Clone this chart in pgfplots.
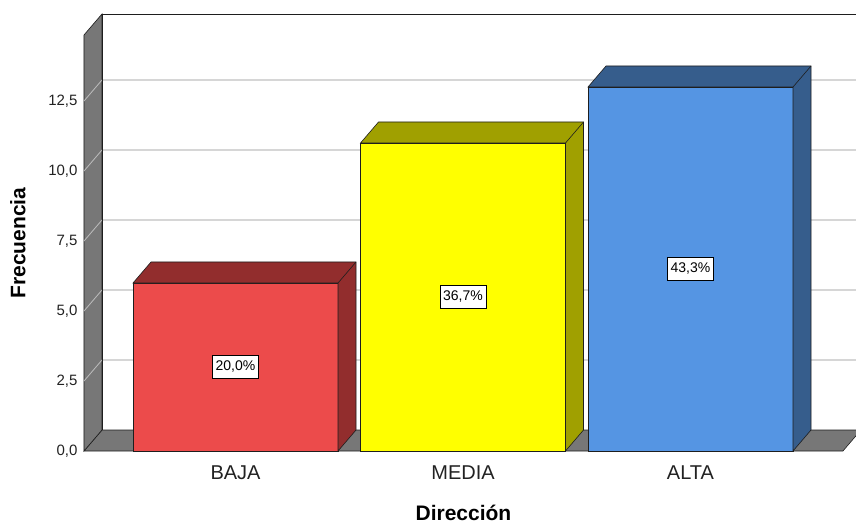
\documentclass[border=0pt]{standalone}
\usepackage{fontspec}
\setmainfont{Liberation Sans}
\usepackage{pgfplots}
\usepackage{pgfplotstable}
\pgfplotsset{compat=1.18}

\definecolor{bajaF}{HTML}{EC4B4B}
\definecolor{bajaS}{HTML}{922D2D}
\definecolor{mediaF}{HTML}{FFFF00}
\definecolor{mediaS}{HTML}{A0A000}
\definecolor{altaF}{HTML}{5595E3}
\definecolor{altaS}{HTML}{365D8C}
\definecolor{wallgray}{HTML}{777777}
\definecolor{gridgray}{HTML}{D6D6D6}
\definecolor{wallgrid}{HTML}{BEBEBE}
\definecolor{edge}{HTML}{1E1E1E}
\definecolor{txt}{HTML}{222222}

% frequency of each level and its share of the total
\pgfplotstableread{
x n pct
0 6 20,0
}\baja
\pgfplotstableread{
x n pct
1 11 36,7
}\media
\pgfplotstableread{
x n pct
2 13 43,3
}\alta

% top and right faces of a bar: drawn at the bar's top centre,
% \barh is the bar's value (28pt per unit), depth offset (18pt,21pt)
\pgfdeclareplotmark{depthbox}{%
  \pgfmathsetmacro\hh{\barh*28}%
  \pgfmathsetmacro\hb{21-\hh}%
  \pgfpathmoveto{\pgfpoint{-102.5pt}{0pt}}%
  \pgfpathlineto{\pgfpoint{-84.5pt}{21pt}}%
  \pgfpathlineto{\pgfpoint{120.5pt}{21pt}}%
  \pgfpathlineto{\pgfpoint{120.5pt}{\hb pt}}%
  \pgfpathlineto{\pgfpoint{102.5pt}{-\hh pt}}%
  \pgfpathlineto{\pgfpoint{102.5pt}{0pt}}%
  \pgfpathclose
  \pgfusepathqfillstroke
  \pgfpathmoveto{\pgfpoint{102.5pt}{0pt}}%
  \pgfpathlineto{\pgfpoint{120.5pt}{21pt}}%
  \pgfusepathqstroke
}

\pgfplotsset{
  front/.style={ybar, bar width=205pt, bar shift=0pt, fill=#1, draw=edge, line width=0.6pt},
  depth/.style={only marks, mark=depthbox,
    mark options={fill=#1, draw=edge, line width=0.6pt},
    visualization depends on={rawy \as \barh},
    point meta=explicit symbolic,
    nodes near coords={\pgfplotspointmeta\%},
    nodes near coords style={anchor=center, yshift=-\barh*14pt,
      fill=white, draw=black, line width=0.7pt, text=black,
      text height=10pt, text depth=3pt,
      inner xsep=3pt, inner ysep=5pt,
      font=\fontsize{14}{16}\selectfont}},
}

\begin{document}
\begin{tikzpicture}
\begin{axis}[
  x=227.5pt, y=28pt,
  xmin=-0.666, xmax=2.670, ymin=0, ymax=14.857,
  clip=false,
  axis x line*=bottom, axis y line*=left,
  axis line style={draw=none},
  major tick length=0pt,
  ytick={0,2.5,5,7.5,10,12.5},
  xtick={0,1,2},
  xticklabels={BAJA,MEDIA,ALTA},
  /pgf/number format/.cd, fixed, fixed zerofill, precision=1, use comma, assume math mode=true,
  /pgfplots/.cd,
  yticklabel style={font=\fontsize{15}{17}\selectfont, text=txt, xshift=-3pt},
  xticklabel style={font=\fontsize{20}{23}\selectfont, text=txt, yshift=-11pt},
  xlabel={Dirección},
  ylabel={Frecuencia},
  xlabel style={font=\bfseries\fontsize{21}{24}\selectfont, at={(axis description cs:0.5,-0.149)}, anchor=center},
  ylabel style={font=\bfseries\fontsize{21}{24}\selectfont, at={(axis description cs:-0.087,0.5)}, anchor=center, rotate=0},
]
% floor
\fill[wallgray, draw=edge, line width=0.6pt]
  (axis cs:-0.666,0) -- (axis cs:2.670,0)
  -- ([shift={(18pt,21pt)}]axis cs:2.670,0)
  -- ([shift={(18pt,21pt)}]axis cs:-0.666,0) -- cycle;
% left wall
\fill[wallgray, draw=edge, line width=0.6pt]
  (axis cs:-0.666,0) -- (axis cs:-0.666,14.857)
  -- ([shift={(18pt,21pt)}]axis cs:-0.666,14.857)
  -- ([shift={(18pt,21pt)}]axis cs:-0.666,0) -- cycle;
% grid on the back wall and across the left wall
\pgfplotsinvokeforeach{2.5,5,7.5,10,12.5}{
  \draw[gridgray, line width=1.2pt]
    ([shift={(18pt,21pt)}]axis cs:-0.666,#1) -- ([shift={(18pt,21pt)}]axis cs:2.670,#1);
  \draw[wallgrid, line width=0.8pt]
    (axis cs:-0.666,#1) -- ([shift={(18pt,21pt)}]axis cs:-0.666,#1);
}
% back wall edges
\draw[edge, line width=0.8pt]
  ([shift={(18pt,21pt)}]axis cs:-0.666,0) -- ([shift={(18pt,21pt)}]axis cs:-0.666,14.857)
  -- ([shift={(18pt,21pt)}]axis cs:2.670,14.857);

\addplot[front=bajaF] table[x=x, y=n] {\baja};
\addplot[depth=bajaS] table[x=x, y=n, meta=pct] {\baja};
\addplot[front=mediaF] table[x=x, y=n] {\media};
\addplot[depth=mediaS] table[x=x, y=n, meta=pct] {\media};
\addplot[front=altaF] table[x=x, y=n] {\alta};
\addplot[depth=altaS] table[x=x, y=n, meta=pct] {\alta};

\coordinate (O) at (axis cs:-0.666,0);
\end{axis}
\pgfresetboundingbox
\path[use as bounding box] ([shift={(-84pt,-74pt)}]O) rectangle ([shift={(772pt,451pt)}]O);
\end{tikzpicture}
\end{document}
